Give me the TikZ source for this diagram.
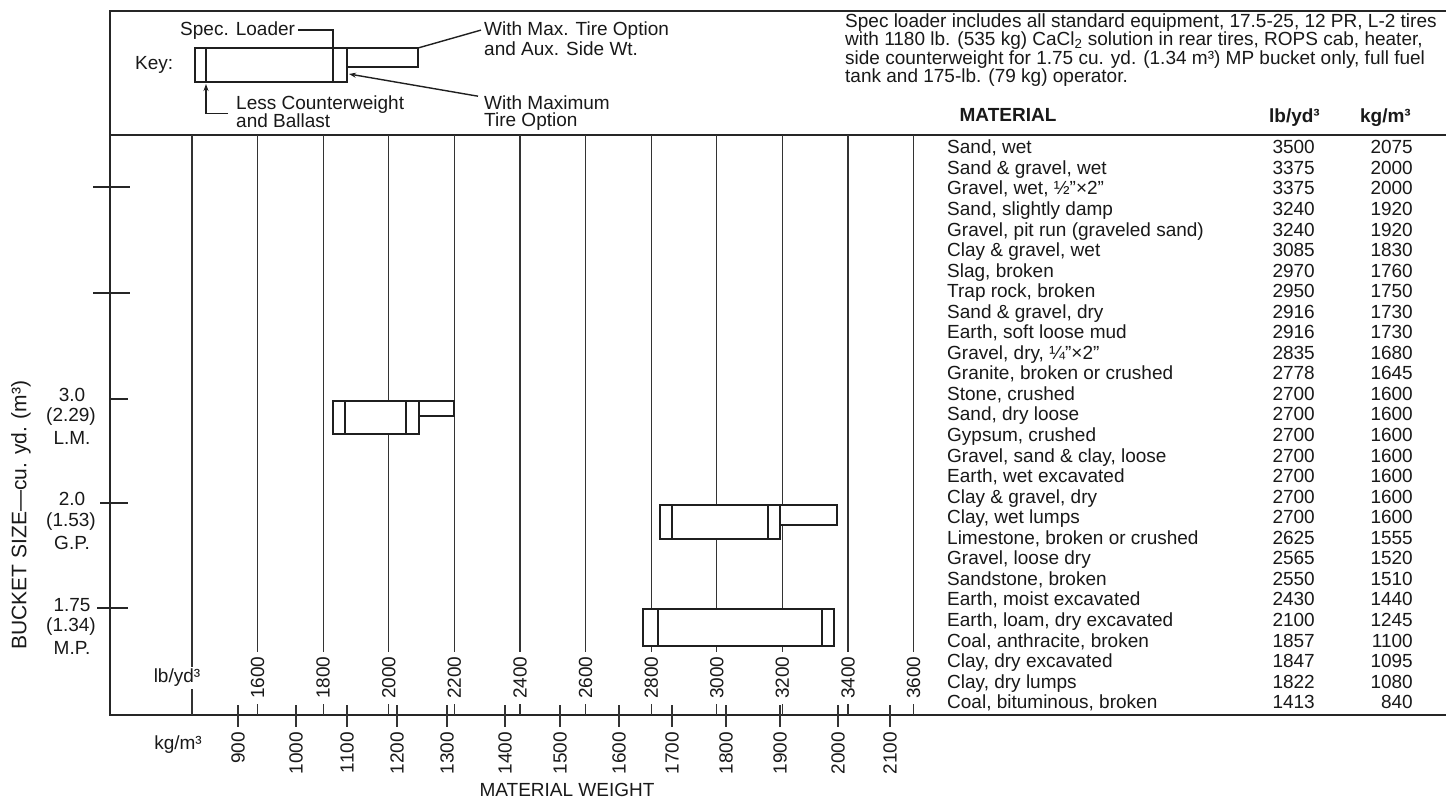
\documentclass[tikz,border=0pt]{standalone}
\usepackage{fontspec}
\setmainfont{Liberation Sans}
\usetikzlibrary{arrows.meta}
\newcommand\mytrow[4]{%
  \node[txt,anchor=base west] (m#1) at (947,{153.8+(#1-1)*20.55}) {#2};
  \node[txt,anchor=base east] (l#1) at (1315,{153.8+(#1-1)*20.55}) {#3};
  \node[txt,anchor=base east] (k#1) at (1413,{153.8+(#1-1)*20.55}) {#4};}
\begin{document}
\begin{tikzpicture}[x=1pt,y=-1pt,
  every node/.style={inner sep=0pt,text=black!90},
  txt/.style={font=\fontsize{19}{21}\selectfont},
  big/.style={font=\fontsize{21}{23}\selectfont},
  bld/.style={font=\fontsize{19}{21}\selectfont\bfseries},
  ln/.style={draw=black!85,line width=1.7pt},
  gridln/.style={draw=black!80,line width=1.3pt},
  bar/.style={draw=black!88,line width=1.9pt,fill=white},
  barin/.style={draw=black!88,line width=1.7pt},
  lead/.style={draw=black!88,line width=1.4pt},
  tip/.style={-{Stealth[length=7pt,width=5pt]}}
]
\fill[white] (0,0) rectangle (1446,806);
\useasboundingbox (0,0) rectangle (1446,806);

% frame
\draw[ln] (1446,11) -- (110,11) -- (110,715) -- (1446,715);
\draw[ln] (110,135) -- (1446,135);

% lb grid
\foreach \v in {1400,1600,...,3600}{
  \pgfmathsetmacro\xx{192+(\v-1400)*0.328}
  \draw[gridln] (\xx,135) -- (\xx,715);
}
\foreach \v in {1600,1800,...,3600}{
  \pgfmathsetmacro\xx{192+(\v-1400)*0.328}
  \node[txt,rotate=90,anchor=west,fill=white,inner xsep=5pt] (lb\v) at (\xx,704) {\v};
}
\node[txt,fill=white,inner sep=2pt] (lbu) at (177,678) {lb/yd³};
\node[txt] (kgu) at (178,745) {kg/m³};

% kg scale
\foreach \k/\xx in {900/238,1000/296,1100/347,1200/397,1300/447,1400/505,1500/560,1600/619,1700/672,1800/726,1900/780,2000/838,2100/890}{
  \draw[gridln] (\xx,705) -- (\xx,727);
  \node[txt,rotate=90,anchor=east] (kg\k) at (\xx,732) {\k};
}
\node[txt] (mw) at (567,790) {MATERIAL WEIGHT};

% y axis
\node[big,rotate=90] (bs) at (21,515) {BUCKET SIZE—cu. yd. (m³)};
\draw[ln] (93,187) -- (130,187);
\draw[ln] (93,293) -- (130,293);
\draw[ln] (111,399) -- (128,399);
\draw[ln] (100,503) -- (128,503);
\draw[ln] (97,608) -- (128,608);
\node[txt] (a1) at (72,395) {3.0};
\node[txt] (a2) at (71,417) {(2.29)};
\node[txt] (a3) at (72,438) {L.M.};
\node[txt] (b1) at (72,499) {2.0};
\node[txt] (b2) at (71,522) {(1.53)};
\node[txt] (b3) at (72,543) {G.P.};
\node[txt] (c1) at (72,605) {1.75};
\node[txt] (c2) at (71,627) {(1.34)};
\node[txt] (c3) at (72,648) {M.P.};

% bars
\draw[bar] (419,401) rectangle (454,416);
\draw[bar] (333,401) rectangle (419,434);
\draw[barin] (345,401) -- (345,434) (406,401) -- (406,434);
\draw[bar] (780,505) rectangle (837,525);
\draw[bar] (660,505) rectangle (780,539);
\draw[barin] (672,505) -- (672,539) (768,505) -- (768,539);
\draw[bar] (643,609) rectangle (834,646);
\draw[barin] (658,609) -- (658,646) (822,609) -- (822,646);

% key
\node[txt,anchor=base west] (key) at (135,69) {Key:};
\draw[bar] (347,48) rectangle (418,67);
\draw[bar] (195,48) rectangle (347,82);
\coordinate (kin) at (206,82);
\coordinate (kext) at (418,48);
\coordinate (kside) at (349,74);
\draw[barin] (206,48) -- (kin);
\node[txt,anchor=base west] (spec) at (180,35) {Spec. Loader};
\draw[lead] ([xshift=3pt]spec.east) -| (333,82);
\node[txt,anchor=base west] (wmax1) at (484,35) {With Max. Tire Option};
\node[txt,anchor=base west] (wmax2) at (484,55) {and Aux. Side Wt.};
\draw[lead] ([xshift=-3pt]wmax1.west) -- (kext);
\node[txt,anchor=base west] (less1) at (236,109) {Less Counterweight};
\node[txt,anchor=base west] (less2) at (236,127) {and Ballast};
\draw[lead,tip] ([xshift=-8pt,yshift=7pt]less2.west) -| ([yshift=-2pt]kin);
\node[txt,anchor=base west] (wm1) at (484,109) {With Maximum};
\node[txt,anchor=base west] (wm2) at (484,126) {Tire Option};
\draw[lead,tip] ([xshift=-6pt,yshift=6pt]wm1.west) -- (kside);

% description
\node[txt,anchor=base west] (s1) at (845,27) {Spec loader includes all standard equipment, 17.5-25, 12 PR, L-2 tires};
\node[txt,anchor=base west] (s2) at (845,45.5) {with 1180 lb. (535 kg) CaCl\textsubscript{2} solution in rear tires, ROPS cab, heater,};
\node[txt,anchor=base west] (s3) at (845,64) {side counterweight for 1.75 cu. yd. (1.34 m³) MP bucket only, full fuel};
\node[txt,anchor=base west] (s4) at (845,82.5) {tank and 175-lb. (79 kg) operator.};

% table
\node[bld] (hm) at (1008,115) {MATERIAL};
\node[bld,anchor=base east] (hl) at (1320,122) {lb/yd³};
\node[bld,anchor=base east] (hk) at (1411,122) {kg/m³};
\mytrow{1}{Sand, wet}{3500}{2075}
\mytrow{2}{Sand \& gravel, wet}{3375}{2000}
\mytrow{3}{Gravel, wet, ½"×2"}{3375}{2000}
\mytrow{4}{Sand, slightly damp}{3240}{1920}
\mytrow{5}{Gravel, pit run (graveled sand)}{3240}{1920}
\mytrow{6}{Clay \& gravel, wet}{3085}{1830}
\mytrow{7}{Slag, broken}{2970}{1760}
\mytrow{8}{Trap rock, broken}{2950}{1750}
\mytrow{9}{Sand \& gravel, dry}{2916}{1730}
\mytrow{10}{Earth, soft loose mud}{2916}{1730}
\mytrow{11}{Gravel, dry, ¼"×2"}{2835}{1680}
\mytrow{12}{Granite, broken or crushed}{2778}{1645}
\mytrow{13}{Stone, crushed}{2700}{1600}
\mytrow{14}{Sand, dry loose}{2700}{1600}
\mytrow{15}{Gypsum, crushed}{2700}{1600}
\mytrow{16}{Gravel, sand \& clay, loose}{2700}{1600}
\mytrow{17}{Earth, wet excavated}{2700}{1600}
\mytrow{18}{Clay \& gravel, dry}{2700}{1600}
\mytrow{19}{Clay, wet lumps}{2700}{1600}
\mytrow{20}{Limestone, broken or crushed}{2625}{1555}
\mytrow{21}{Gravel, loose dry}{2565}{1520}
\mytrow{22}{Sandstone, broken}{2550}{1510}
\mytrow{23}{Earth, moist excavated}{2430}{1440}
\mytrow{24}{Earth, loam, dry excavated}{2100}{1245}
\mytrow{25}{Coal, anthracite, broken}{1857}{1100}
\mytrow{26}{Clay, dry excavated}{1847}{1095}
\mytrow{27}{Clay, dry lumps}{1822}{1080}
\mytrow{28}{Coal, bituminous, broken}{1413}{840}
\end{tikzpicture}
\end{document}
